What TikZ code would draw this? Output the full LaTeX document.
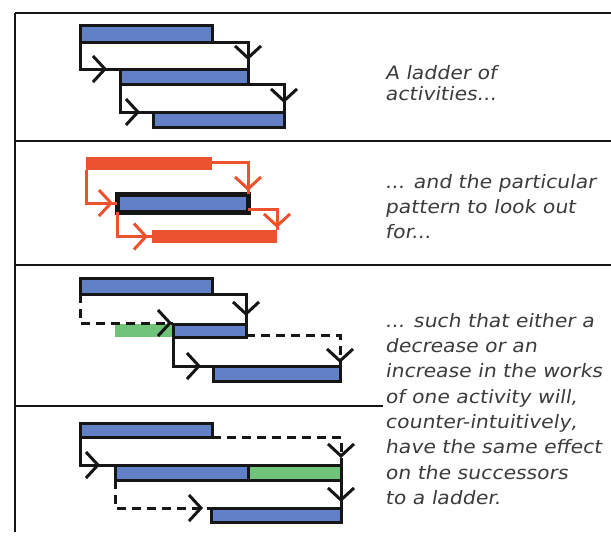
\documentclass[tikz,border=0pt]{standalone}
\usepackage{fontspec}
\newfontfamily\hand{DejaVu Sans}[FakeSlant=0.17,FakeStretch=1.1]
\usetikzlibrary{arrows.meta,decorations.markings,calc}
\definecolor{barblue}{RGB}{98,128,198}
\definecolor{bargreen}{RGB}{112,196,122}
\definecolor{barred}{RGB}{236,82,46}
\definecolor{ink}{RGB}{22,22,22}
\definecolor{pen}{RGB}{60,60,60}
\tikzset{
  rule/.style={draw=ink, line width=2.4pt},
  bar/.style={draw=ink, line width=3pt, inner sep=0pt, outer sep=0pt, anchor=north west, fill=barblue},
  plainbar/.style={draw=none, inner sep=0pt, outer sep=0pt, anchor=north west},
  keybar/.style={draw=ink, line width=5pt, inner sep=0pt, outer sep=0pt, anchor=north west, fill=barblue},
  link/.style={draw=ink, line width=3pt, postaction={decorate}, decoration={markings,
      mark=at position -#1 with {\arrow{Straight Barb[length=12pt,width=26pt,line width=3pt,color=ink]}}}},
  redlink/.style={draw=barred, line width=3pt, postaction={decorate}, decoration={markings,
      mark=at position -#1 with {\arrow{Straight Barb[length=12pt,width=26pt,line width=3pt,color=barred]}}}},
  dashlink/.style={link=#1, dash pattern=on 9pt off 6pt},
  note/.style={anchor=base west, inner sep=0pt, text=pen, font=\hand\fontsize{18.5}{20}\selectfont}
}
\begin{document}
\begin{tikzpicture}[x=1pt,y=-1pt]
\useasboundingbox (0,0) rectangle (611,536);

% frame
\draw[rule] (15,13) -- (611,13);
\draw[rule] (15,13) -- (15,532);
\draw[rule] (15,141) -- (611,141);
\draw[rule] (15,265) -- (611,265);
\draw[rule] (15,406) -- (383,406);

% ladder of activities
\node[bar, minimum width=132pt, minimum height=17pt] (b11) at (80,25) {};
\node[bar, minimum width=128pt, minimum height=15pt] (b12) at (120,69) {};
\node[bar, minimum width=131pt, minimum height=15pt] (b13) at (153,112) {};
\draw[link=9pt] (b11.south east) -| (b12.north east);
\draw[link=13pt] (b11.south west) |- (b12.north west);
\draw[link=9pt] (b12.south east) -| (b13.north east);
\draw[link=13pt] (b12.south west) |- (b13.north west);

% the pattern
\node[plainbar, fill=barred, minimum width=126pt, minimum height=13pt] (r1) at (86,157) {};
\node[keybar, minimum width=131pt, minimum height=18pt] (c2) at (117,194) {};
\node[plainbar, fill=barred, minimum width=125pt, minimum height=13pt] (r3) at (152,230) {};
\draw[redlink=3pt] ($(r1.north east)+(0,5)$) -| (c2.north east);
\draw[redlink=4pt] (r1.south west) |- (c2.west);
\draw[redlink=2pt] ($(c2.south east)+(0,-3)$) -| (r3.north east);
\draw[redlink=4pt] (c2.south west) |- (r3.west);

% decrease case
\node[bar, minimum width=132pt, minimum height=16pt] (a1) at (80,278) {};
\node[plainbar, fill=bargreen, minimum width=58pt, minimum height=13pt] (g3) at (115,324) {};
\node[bar, minimum width=73pt, minimum height=13pt] (c3) at (173,324) {};
\node[bar, minimum width=127pt, minimum height=15pt] (a3) at (213,366) {};
\draw[link=8pt] (a1.south east) -| (c3.north east);
\draw[dashlink=1pt] (a1.south west) |- ($(c3.north west)+(0,-1)$);
\draw[dashlink=3pt] ($(c3.south east)+(0,-2)$) -| (a3.north east);
\draw[link=12pt] (c3.south west) |- (a3.north west);

% increase case
\node[bar, minimum width=132pt, minimum height=14pt] (d1) at (80,423) {};
\node[bar, minimum width=133pt, minimum height=15pt] (d2b) at (115,465) {};
\node[bar, fill=bargreen, minimum width=93pt, minimum height=15pt] (d2g) at (248,465) {};
\node[bar, minimum width=130pt, minimum height=14pt] (d3) at (211,508) {};
\draw[dashlink=7pt] (d1.south east) -| (d2g.north east);
\draw[link=15pt] (d1.south west) |- (d2b.north west);
\draw[link=6pt] (d2g.south east) -- (d3.north east);
\draw[dashlink=8pt] (d2b.south west) |- (d3.north west);

% notes
\node[note] (n1a) at (385,79) {A ladder of};
\node[note] (n1b) at (385,100) {activities...};
\node[note] (n2a) at (385,188) {... and the particular};
\node[note] (n2b) at (385,213) {pattern to look out};
\node[note] (n2c) at (385,238) {for...};
\node[note] (n3a) at (385,327) {... such that either a};
\node[note] (n3b) at (385,352) {decrease or an};
\node[note] (n3c) at (385,377) {increase in the works};
\node[note] (n3d) at (385,403) {of one activity will,};
\node[note] (n3e) at (385,428) {counter-intuitively,};
\node[note] (n3f) at (385,453) {have the same effect};
\node[note] (n3g) at (385,479) {on the successors};
\node[note] (n3h) at (385,504) {to a ladder.};
\end{tikzpicture}
\end{document}
